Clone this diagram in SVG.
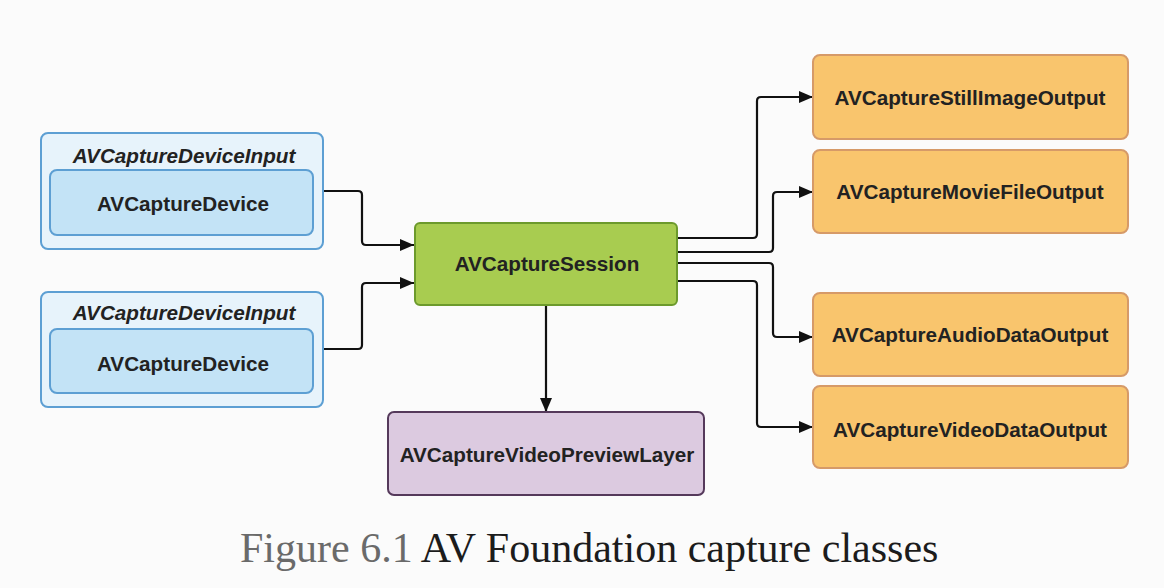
<svg xmlns="http://www.w3.org/2000/svg" width="1164" height="588" viewBox="0 0 1164 588">
<style>
.lbl{font-family:"Liberation Sans",Arial,Helvetica,sans-serif;font-weight:bold;font-size:20.7px;fill:#222;text-anchor:middle}
.it{font-style:italic}
.outer{fill:#e7f3fb;stroke:#5d9fd3;stroke-width:2}
.inner{fill:#c3e3f6;stroke:#5d9fd3;stroke-width:2}
.sess{fill:#a8cc50;stroke:#6c9a2c;stroke-width:2}
.out{fill:#f9c56d;stroke:#d69a68;stroke-width:2}
.prev{fill:#dccae0;stroke:#55395b;stroke-width:2}
.conn path{fill:none;stroke:#111;stroke-width:2.2}
.cap{font-family:"Liberation Serif","Times New Roman",serif;font-size:42px}
</style>
<defs>
<marker id="arr" markerUnits="userSpaceOnUse" markerWidth="14" markerHeight="12" refX="14" refY="6" orient="auto">
<path d="M0,0 L14,6 L0,12 z" fill="#111"/>
</marker>
</defs>
<rect width="1164" height="588" fill="#fbfbfb"/>

<g class="conn" id="connectors">
<path d="M323,191 H358 Q362,191 362,195 V241 Q362,245 366,245 H414" marker-end="url(#arr)"/>
<path d="M323,349 H358 Q362,349 362,345 V287 Q362,283 366,283 H414" marker-end="url(#arr)"/>
<path d="M677,238 H753 Q757,238 757,234 V101 Q757,97 761,97 H813" marker-end="url(#arr)"/>
<path d="M677,252 H769 Q773,252 773,248 V196 Q773,192 777,192 H813" marker-end="url(#arr)"/>
<path d="M677,263 H769 Q773,263 773,267 V333 Q773,337 777,337 H813" marker-end="url(#arr)"/>
<path d="M677,281 H753 Q757,281 757,285 V423 Q757,427 761,427 H813" marker-end="url(#arr)"/>
<path d="M546,306 V412" marker-end="url(#arr)"/>
</g>

<g id="input1">
<rect class="outer" x="41" y="133" width="282" height="116" rx="7"/>
<text class="lbl it" x="184" y="163">AVCaptureDeviceInput</text>
<g id="device1">
<rect class="inner" x="50" y="170" width="263" height="65" rx="7"/>
<text class="lbl" x="183" y="211">AVCaptureDevice</text>
</g>
</g>

<g id="input2">
<rect class="outer" x="41" y="292" width="282" height="115" rx="7"/>
<text class="lbl it" x="184" y="320">AVCaptureDeviceInput</text>
<g id="device2">
<rect class="inner" x="50" y="329" width="263" height="64" rx="7"/>
<text class="lbl" x="183" y="371">AVCaptureDevice</text>
</g>
</g>

<g id="session">
<rect class="sess" x="415" y="223" width="262" height="82" rx="5"/>
<text class="lbl" x="547" y="271">AVCaptureSession</text>
</g>

<g id="preview">
<rect class="prev" x="388" y="412" width="316" height="83" rx="6"/>
<text class="lbl" x="547" y="462">AVCaptureVideoPreviewLayer</text>
</g>

<g id="still">
<rect class="out" x="813" y="55" width="315" height="84" rx="7"/>
<text class="lbl" x="970" y="105">AVCaptureStillImageOutput</text>
</g>
<g id="movie">
<rect class="out" x="813" y="150" width="315" height="83" rx="7"/>
<text class="lbl" x="970" y="199">AVCaptureMovieFileOutput</text>
</g>
<g id="audio">
<rect class="out" x="813" y="293" width="315" height="83" rx="7"/>
<text class="lbl" x="970" y="342">AVCaptureAudioDataOutput</text>
</g>
<g id="video">
<rect class="out" x="813" y="386" width="315" height="82" rx="7"/>
<text class="lbl" x="970" y="437">AVCaptureVideoDataOutput</text>
</g>

<text class="cap" x="240" y="562"><tspan fill="#6a6a6a">Figure 6.1</tspan><tspan fill="#1c1c1c"> AV Foundation capture classes</tspan></text>
</svg>
